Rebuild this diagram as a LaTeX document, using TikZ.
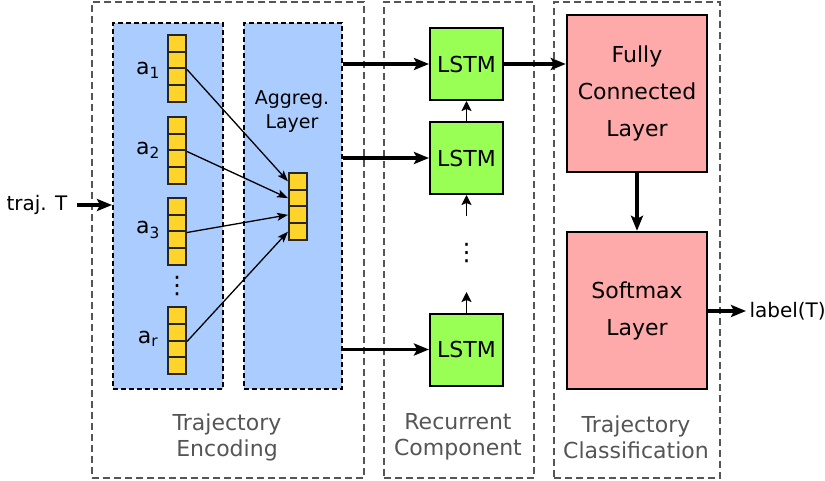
\documentclass[tikz,border=0pt]{standalone}
\usepackage{fontspec}
\setmainfont{DejaVu Sans}
\usetikzlibrary{arrows.meta}
\definecolor{encblue}{HTML}{AACCFF}
\definecolor{cellyel}{HTML}{FFD42A}
\definecolor{lstmgreen}{HTML}{99FF55}
\definecolor{fcpink}{HTML}{FFAAAA}
\definecolor{grayline}{HTML}{555555}
\tikzset{
  outerbox/.style={draw=grayline, line width=2pt, dash pattern=on 7pt off 4pt, anchor=north west, inner sep=0pt},
  bluebox/.style={draw=black, fill=encblue, line width=2pt, dash pattern=on 5pt off 3pt, anchor=north west, inner sep=0pt},
  cellbox/.style={draw=black!85, fill=cellyel, line width=2pt, minimum width=18pt, minimum height=16.75pt, inner sep=0pt},
  lstmbox/.style={draw=black, fill=lstmgreen, line width=2pt, minimum width=73pt, minimum height=72pt, inner sep=0pt, font=\fontsize{22}{26}\selectfont},
  fcbox/.style={draw=black, fill=fcpink, line width=2.4pt, minimum width=140pt, minimum height=157pt, inner sep=0pt, align=center, font=\fontsize{22}{37}\selectfont},
  grouplabel/.style={text=grayline, align=center, font=\fontsize{22}{26}\selectfont},
  plainlabel/.style={font=\fontsize{20}{24}\selectfont},
  dotslabel/.style={inner sep=0pt, font=\fontsize{24}{26}\selectfont},
  thickarrow/.style={line width=3.6pt, -{Stealth[length=15pt,width=12pt,inset=3pt]}},
  midarrow/.style={line width=1.8pt, -{Stealth[length=10pt,width=10pt,inset=2pt]}},
  thinarrow/.style={line width=1.3pt, -{Stealth[length=11pt,width=8pt,inset=2.5pt]}},
}
\newcommand{\cellstack}[3]{% name, x center, top y
  \foreach \k in {1,2,3,4}{
    \node[cellbox] (#1-\k) at (#2, {#3 + (\k-0.5)*16.75}) {};
  }
}
\begin{document}
\begin{tikzpicture}[x=1pt,y=-1pt]
\useasboundingbox (0,0) rectangle (825,481);

% outer groups
\node[outerbox, minimum width=272pt, minimum height=476pt] (enc) at (91,1) {};
\node[outerbox, minimum width=150pt, minimum height=476pt] (rec) at (383,1) {};
\node[outerbox, minimum width=166pt, minimum height=476pt] (cls) at (553,1) {};

% blue boxes
\node[bluebox, minimum width=110pt, minimum height=366pt] (blue1) at (112,22) {};
\node[bluebox, minimum width=98pt, minimum height=366pt] (blue2) at (243,22) {};

% cell stacks
\cellstack{a1}{177}{35}
\cellstack{a2}{177}{117}
\cellstack{a3}{177}{198}
\cellstack{ar}{177}{307}
\cellstack{ag}{298}{173}

% labels a_i
\node[font=\fontsize{22}{26}\selectfont] (la1) at (148,70) {a\textsubscript{1}};
\node[font=\fontsize{22}{26}\selectfont] (la2) at (148,150) {a\textsubscript{2}};
\node[font=\fontsize{22}{26}\selectfont] (la3) at (148,230) {a\textsubscript{3}};
\node[font=\fontsize{22}{26}\selectfont] (lar) at (148,339) {a\textsubscript{r}};
\node[dotslabel] (vd1) at (177,286) {⋮};

\node[align=center, font=\fontsize{19}{24}\selectfont] (agglabel) at (292,112) {Aggreg.\\Layer};

% aggregation arrows
\draw[thinarrow] (a1-2.south east) -- (ag-1.west);
\draw[thinarrow] (a2-2.south east) -- (ag-2.west);
\draw[thinarrow] (a3-2.south east) -- (ag-3.west);
\draw[thinarrow] (ar-2.south east) -- (ag-4.west);

% input
\node[plainlabel, anchor=east] (traj) at (71,205) {traj. T};
\path (traj.east) ++(6,0) coordinate (tstart);
\draw[thickarrow] (tstart) -- (blue1.west |- tstart);

% LSTMs
\node[lstmbox] (l1) at (466.5,64) {LSTM};
\node[lstmbox] (l2) at (466.5,158) {LSTM};
\node[lstmbox] (l3) at (466.5,349.5) {LSTM};
\node[dotslabel] (vd2) at (466.5,253) {⋮};
\coordinate (c1) at (466.5,216);
\coordinate (c2) at (466.5,292);

\draw[thickarrow] (blue2.east |- l1) -- (l1.west);
\draw[thickarrow] (blue2.east |- l2) -- (l2.west);
\draw[thickarrow] (blue2.east |- l3) -- (l3.west);

\draw[midarrow] (l2.north) -- (l1.south);
\draw[midarrow] (c1) -- (l2.south);
\draw[midarrow] (l3.north) -- (c2);

% classification
\node[fcbox] (fc) at (637,93.5) {Fully\\Connected\\Layer};
\node[fcbox] (sm) at (637,310.5) {Softmax\\Layer};
\draw[thickarrow] (l1.east) -- (fc.west |- l1);
\draw[thickarrow] (fc.south) -- (sm.north);

\node[plainlabel, anchor=west] (lab) at (746,311) {label(T)};
\draw[thickarrow] (sm.east |- lab) -- (lab.west);

% group labels
\node[grouplabel] (g1) at (227,437) {Trajectory\\Encoding};
\node[grouplabel] (g2) at (458,437) {Recurrent\\Component};
\node[grouplabel] (g3) at (636,437) {Trajectory\\Classification};
\end{tikzpicture}
\end{document}
